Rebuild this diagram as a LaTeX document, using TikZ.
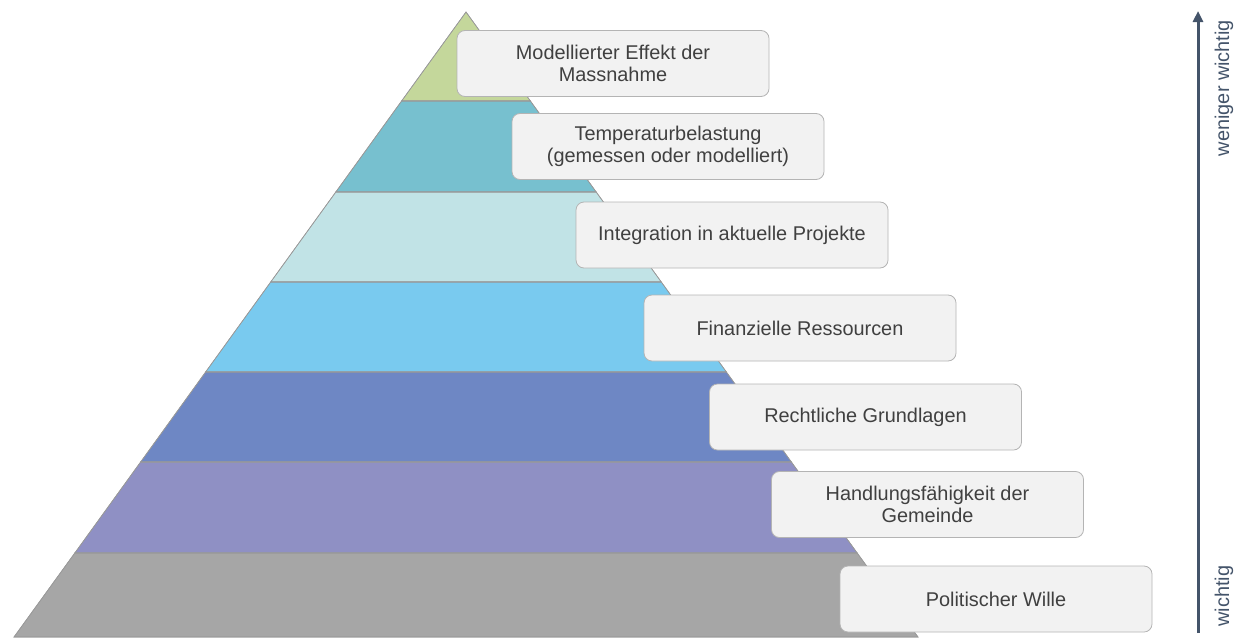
\documentclass[tikz,border=0pt]{standalone}
\usepackage{fontspec}
\setmainfont{Liberation Sans}
\usetikzlibrary{arrows.meta}
\definecolor{lay1}{HTML}{C4D79B}
\definecolor{lay2}{HTML}{77C0CF}
\definecolor{lay3}{HTML}{C1E3E6}
\definecolor{lay4}{HTML}{79CAEF}
\definecolor{lay5}{HTML}{6E87C4}
\definecolor{lay6}{HTML}{8F90C4}
\definecolor{lay7}{HTML}{A6A6A6}
\definecolor{boxfill}{HTML}{F2F2F2}
\definecolor{boxline}{HTML}{B4B4B4}
\definecolor{txt}{HTML}{404040}
\definecolor{axis}{HTML}{44546A}
\tikzset{
  layer/.style={draw=black!40, line width=0.6pt},
  labelbox/.style={rectangle, rounded corners=8pt, fill=boxfill, draw=boxline, line width=0.8pt,
    minimum width=312pt, minimum height=66pt, align=center, text=txt,
    font=\fontsize{19.9}{22.5}\selectfont},
  sidelabel/.style={rotate=90, text=axis, font=\fontsize{19.9}{22}\selectfont, inner sep=0pt}
}
\begin{document}
\begin{tikzpicture}[x=1pt,y=-1pt]
\useasboundingbox (0,0) rectangle (1241,637);
% pyramid layers
\fill[layer, fill=lay1] (466,12) -- (530.4,101) -- (401.6,101) -- cycle;
\fill[layer, fill=lay2] (401.6,101) -- (530.4,101) -- (596.2,192) -- (335.8,192) -- cycle;
\fill[layer, fill=lay3] (335.8,192) -- (596.2,192) -- (661.3,282) -- (270.7,282) -- cycle;
\fill[layer, fill=lay4] (270.7,282) -- (661.3,282) -- (726.4,372) -- (205.6,372) -- cycle;
\fill[layer, fill=lay5] (205.6,372) -- (726.4,372) -- (791.4,462) -- (140.6,462) -- cycle;
\fill[layer, fill=lay6] (140.6,462) -- (791.4,462) -- (857.2,553) -- (74.8,553) -- cycle;
\fill[layer, fill=lay7] (74.8,553) -- (857.2,553) -- (918,637) -- (14,637) -- cycle;
\draw[layer] (466,12) -- (530.4,101) -- (401.6,101) -- cycle;
\draw[layer] (401.6,101) -- (530.4,101) -- (596.2,192) -- (335.8,192) -- cycle;
\draw[layer] (335.8,192) -- (596.2,192) -- (661.3,282) -- (270.7,282) -- cycle;
\draw[layer] (270.7,282) -- (661.3,282) -- (726.4,372) -- (205.6,372) -- cycle;
\draw[layer] (205.6,372) -- (726.4,372) -- (791.4,462) -- (140.6,462) -- cycle;
\draw[layer] (140.6,462) -- (791.4,462) -- (857.2,553) -- (74.8,553) -- cycle;
\draw[layer] (74.8,553) -- (857.2,553) -- (918,637) -- (14,637) -- cycle;
% label boxes
\node[labelbox] (b1) at (613,63.5) {Modellierter Effekt der\\Massnahme};
\node[labelbox] (b2) at (668,146.5) {Temperaturbelastung\\(gemessen oder modelliert)};
\node[labelbox] (b3) at (732,235) {Integration in aktuelle Projekte};
\node[labelbox] (b4) at (800,328) {Finanzielle Ressourcen};
\node[labelbox] (b5) at (865.5,417) {Rechtliche Grundlagen};
\node[labelbox] (b6) at (927.5,504.5) {Handlungsfähigkeit der\\Gemeinde};
\node[labelbox] (b7) at (996,599) {Politischer Wille};
% importance axis
\coordinate (abot) at (1198,633);
\coordinate (atop) at (1198,11);
\draw[axis, line width=3pt, -{Triangle[length=11pt,width=10pt]}] (abot) -- (atop);
\node[sidelabel] (lmore) at (1224,88) {weniger wichtig};
\node[sidelabel] (lless) at (1224,596) {wichtig};
\end{tikzpicture}
\end{document}
